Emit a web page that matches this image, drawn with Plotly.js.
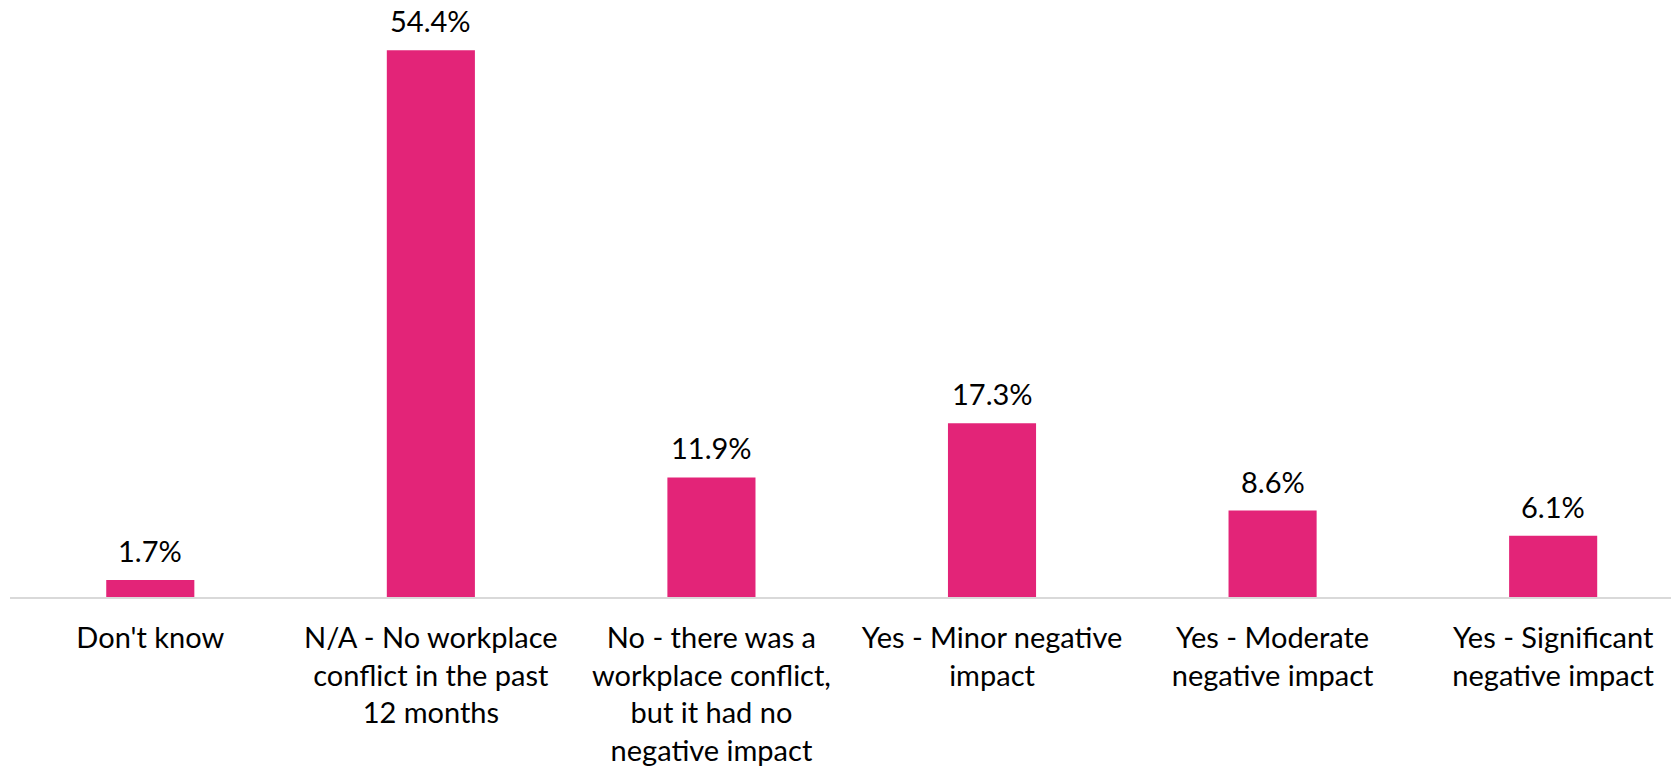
<!DOCTYPE html>
<html>
<head>
<meta charset="utf-8">
<script src="https://cdn.plot.ly/plotly-3.0.1.min.js"></script>
<style>html,body{margin:0;padding:0;background:#fff;}#chart{width:1671px;height:773px;}</style>
</head>
<body>
<div id="chart"></div>
<script>
const categories = [
  "Don't know",
  "N/A - No workplace<br>conflict in the past<br>12 months",
  "No - there was a<br>workplace conflict,<br>but it had no<br>negative impact",
  "Yes - Minor negative<br>impact",
  "Yes - Moderate<br>negative impact",
  "Yes - Significant<br>negative impact"
];
const values = [1.7, 54.4, 11.9, 17.3, 8.6, 6.1];
const valueLabels = ["1.7%", "54.4%", "11.9%", "17.3%", "8.6%", "6.1%"];

const fontFamily = "Lato, 'Open Sans', sans-serif";

const trace = {
  type: 'bar',
  x: categories,
  y: values,
  marker: {color: '#E32478'},
  hoverinfo: 'none'
};

const annotations = categories.map((c, i) => ({
  x: c,
  y: values[i],
  xref: 'x',
  yref: 'y',
  text: valueLabels[i],
  showarrow: false,
  yanchor: 'bottom',
  yshift: 10,
  font: {family: fontFamily, size: 29, color: '#000'}
}));

const layout = {
  width: 1671,
  height: 773,
  margin: {l: 10, r: 0, t: 0, b: 176},
  paper_bgcolor: '#fff',
  plot_bgcolor: '#fff',
  bargap: 0.686,
  showlegend: false,
  font: {family: fontFamily, size: 29, color: '#000'},
  annotations: annotations,
  xaxis: {
    type: 'category',
    range: [-0.5, 5.42],
    showline: true,
    linecolor: '#d9d9d9',
    linewidth: 2,
    ticks: '',
    showgrid: false,
    zeroline: false,
    tickangle: 0,
    tickfont: {family: fontFamily, size: 29, color: '#000'},
    ticklabelstandoff: 14
  },
  yaxis: {
    range: [0, 59.4],
    visible: false,
    showgrid: false,
    zeroline: false
  }
};

Plotly.newPlot('chart', [trace], layout, {displayModeBar: false, staticPlot: true});
</script>
</body>
</html>
